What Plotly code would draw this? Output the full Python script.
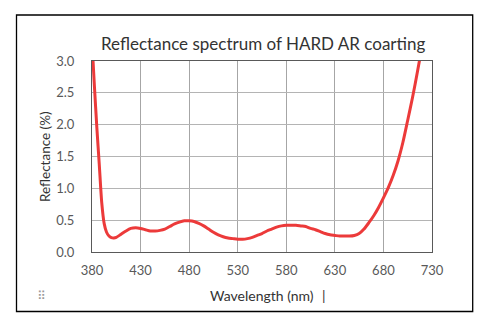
import plotly.graph_objects as go

wavelength = [380, 382.5, 385, 387.5, 390, 392.5, 395, 397.5, 400, 402.5, 405, 410, 415, 420, 425, 430, 435, 440, 445, 450,
              455, 460, 465, 470, 475, 480, 485, 490, 495, 500, 505, 510, 515, 520, 525,
              530, 535, 540, 545, 550, 555, 560, 565, 570, 575, 580, 585, 590, 595, 600,
              605, 610, 615, 620, 625, 630, 635, 640, 645, 650, 655, 660, 665, 670, 675,
              680, 685, 690, 695, 700, 705, 710, 715, 720]
reflectance = [3.3, 2.6, 1.95, 1.37, 0.78, 0.45, 0.31, 0.25, 0.225, 0.22, 0.23, 0.28, 0.33, 0.37, 0.38, 0.37, 0.35, 0.33, 0.33, 0.34,
               0.36, 0.40, 0.44, 0.47, 0.49, 0.49, 0.48, 0.45, 0.41, 0.36, 0.31, 0.27, 0.24, 0.22, 0.21,
               0.20, 0.20, 0.21, 0.23, 0.26, 0.29, 0.33, 0.36, 0.39, 0.41, 0.42, 0.42, 0.42, 0.41, 0.40,
               0.37, 0.35, 0.32, 0.29, 0.27, 0.26, 0.25, 0.25, 0.25, 0.26, 0.29, 0.36, 0.46, 0.57, 0.70,
               0.85, 1.01, 1.20, 1.43, 1.72, 2.07, 2.43, 2.83, 3.25]
x_ticks = [380, 430, 480, 530, 580, 630, 680, 730]
y_ticks = [0.0, 0.5, 1.0, 1.5, 2.0, 2.5, 3.0]

title_text = "Reflectance spectrum of HARD AR coarting"
x_title = "Wavelength (nm)"
y_title = "Reflectance (%)"

FONT = "Lato, 'Open Sans', sans-serif"

fig = go.Figure()
fig.add_trace(go.Scatter(
    x=wavelength, y=reflectance, mode="lines",
    line=dict(color="#ec3a3a", width=3, shape="spline", smoothing=0.7),
    showlegend=False, hoverinfo="skip"))

L, R, T, B = 92, 56, 61, 72
W, H = 488, 324
pw, ph = W - L - R, H - T - B

def px(x):
    return (x - L) / pw

def py(y):
    return (H - B - y) / ph

fig.update_layout(
    width=W, height=H,
    margin=dict(l=L, r=R, t=T, b=B, pad=0),
    paper_bgcolor="white", plot_bgcolor="white",
    font=dict(family=FONT, color="#595959", size=13),
    xaxis=dict(range=[380, 730], tickvals=x_ticks, ticktext=[str(v) for v in x_ticks],
               showgrid=True, gridcolor="#a6a6a6", gridwidth=1,
               zeroline=False, showline=True, linecolor="#595959", linewidth=1, mirror=True,
               ticks="outside", ticklen=6, tickcolor="rgba(0,0,0,0)",
               tickfont=dict(size=13, color="#595959", family=FONT)),
    yaxis=dict(range=[0, 3], tickvals=y_ticks, ticktext=[f"{v:.1f}" for v in y_ticks],
               showgrid=True, gridcolor="#b4b4b4", gridwidth=1,
               zeroline=False, showline=True, linecolor="#595959", linewidth=1, mirror=True,
               ticks="outside", ticklen=14, tickcolor="rgba(0,0,0,0)",
               tickfont=dict(size=13, color="#595959", family=FONT)),
)

fig.add_annotation(text=title_text, xref="paper", yref="paper",
                   x=px(263), y=py(44), xanchor="center", yanchor="middle",
                   showarrow=False, font=dict(size=17, color="#333333", family=FONT))
fig.add_annotation(text=x_title, xref="paper", yref="paper",
                   x=px(262), y=py(295), xanchor="center", yanchor="middle",
                   showarrow=False, font=dict(size=14, color="#333333", family=FONT))
fig.add_annotation(text="|", xref="paper", yref="paper",
                   x=px(324), y=py(295), xanchor="center", yanchor="middle",
                   showarrow=False, font=dict(size=14, color="#333333", family=FONT))
fig.add_annotation(text=y_title, xref="paper", yref="paper", textangle=-90,
                   x=px(45), y=py(157), xanchor="center", yanchor="middle",
                   showarrow=False, font=dict(size=13.5, color="#333333", family=FONT))
fig.add_annotation(text="⠿", xref="paper", yref="paper",
                   x=px(41), y=py(296), xanchor="center", yanchor="middle",
                   showarrow=False, font=dict(size=12, color="#999999", family="DejaVu Sans"))

fig.add_shape(type="rect", xref="paper", yref="paper",
              x0=px(16.5), x1=px(472.7), y0=py(311.5), y1=py(15),
              line=dict(color="black", width=1.3), fillcolor="rgba(0,0,0,0)", layer="below")

fig.write_html("out.html")
